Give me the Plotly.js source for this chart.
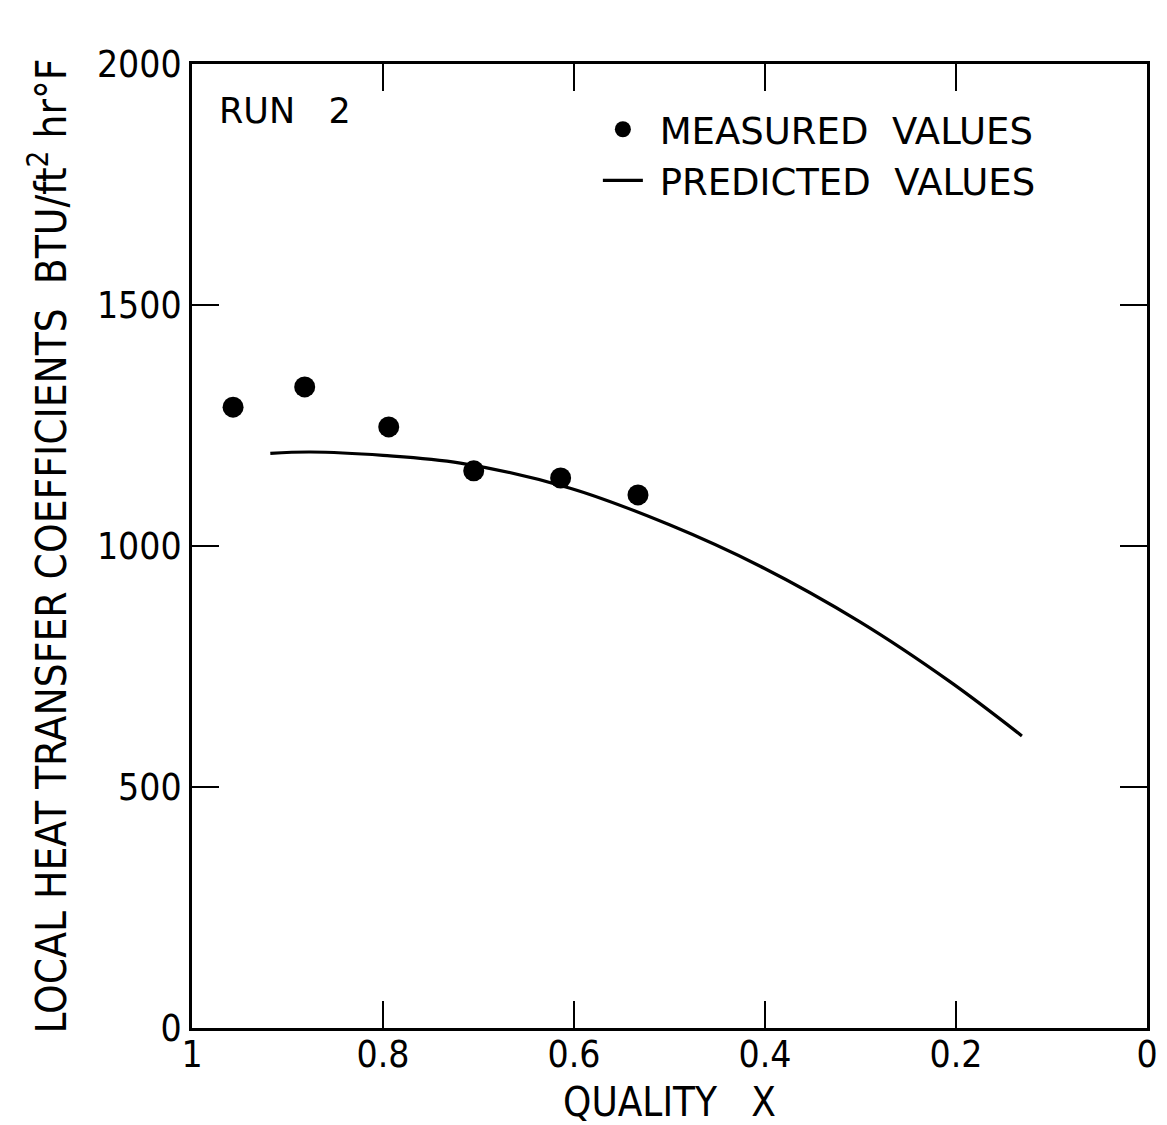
<!DOCTYPE html>
<html>
<head>
<meta charset="utf-8">
<script src="https://cdn.plot.ly/plotly-3.0.1.min.js"></script>
<style>html,body{margin:0;padding:0;background:#fff;}#chart{width:1167px;height:1125px;}</style>
</head>
<body>
<div id="chart"></div>
<script>
// Measured values (Run 2)
const measuredX = [0.957, 0.882, 0.794, 0.705, 0.614, 0.533];
const measuredY = [1288, 1330, 1247, 1156, 1141, 1106];

// Predicted values curve
const predictedX = [0.918, 0.876, 0.800, 0.719, 0.604, 0.500, 0.405, 0.301, 0.206, 0.131];
const predictedY = [1192, 1195, 1188, 1172, 1120, 1044, 958, 843, 718, 606];

const xTicks = [1, 0.8, 0.6, 0.4, 0.2, 0];
const xTickLabels = ["1", "0.8", "0.6", "0.4", "0.2", "0"];
const yTicks = [0, 500, 1000, 1500, 2000];
const yTickLabels = ["0", "500", "1000", "1500", "2000"];

const FONT = "'DejaVu Sans', 'Liberation Sans', sans-serif";
const FONT_C = "'DejaVu Sans Condensed', 'Liberation Sans Narrow', 'DejaVu Sans', sans-serif";

const traces = [
  {
    x: measuredX, y: measuredY, type: 'scatter', mode: 'markers',
    name: '&nbsp;MEASURED  VALUES',
    marker: {color: '#000', size: 21, symbol: 'circle'}
  },
  {
    x: predictedX, y: predictedY, type: 'scatter', mode: 'lines',
    name: '&nbsp;PREDICTED  VALUES',
    line: {color: '#000', width: 3.2, shape: 'spline', smoothing: 1}
  }
];

const axisCommon = {
  showgrid: false, zeroline: false,
  showline: true, linecolor: '#000', linewidth: 3,
  mirror: 'ticks', ticks: 'inside', ticklen: 27, tickwidth: 2.5, tickcolor: '#000',
  tickfont: {family: FONT_C, size: 37, color: '#000'}
};

const layout = {
  width: 1167, height: 1125,
  paper_bgcolor: '#fff', plot_bgcolor: '#fff',
  margin: {l: 192, r: 20, t: 64, b: 97},
  showlegend: true,
  legend: {
    x: 0.425, y: 0.964, xanchor: 'left', yanchor: 'top',
    bgcolor: 'rgba(0,0,0,0)',
    font: {family: FONT, size: 37, color: '#000'},
    tracegroupgap: 0, itemwidth: 40
  },
  xaxis: Object.assign({}, axisCommon, {
    range: [1, 0], tickvals: xTicks, ticktext: xTickLabels,
    ticklabelstandoff: -8,
    title: {text: 'QUALITY   X', font: {family: FONT_C, size: 40, color: '#000'}, standoff: 16}
  }),
  yaxis: Object.assign({}, axisCommon, {
    range: [0, 2000], tickvals: yTicks, ticktext: yTickLabels,
    title: {text: 'LOCAL HEAT TRANSFER COEFFICIENTS  BTU/ft<sup>2</sup> hr°F', font: {family: FONT_C, size: 42, color: '#000'}, standoff: 18}
  }),
  annotations: [
    {xref: 'paper', yref: 'paper', x: 0.026, y: 0.951, xanchor: 'left', yanchor: 'middle',
     text: 'RUN&nbsp;&nbsp;&nbsp;2', showarrow: false, font: {family: FONT, size: 35, color: '#000'}}
  ]
};

Plotly.newPlot('chart', traces, layout, {displayModeBar: false, staticPlot: true});
</script>
</body>
</html>
